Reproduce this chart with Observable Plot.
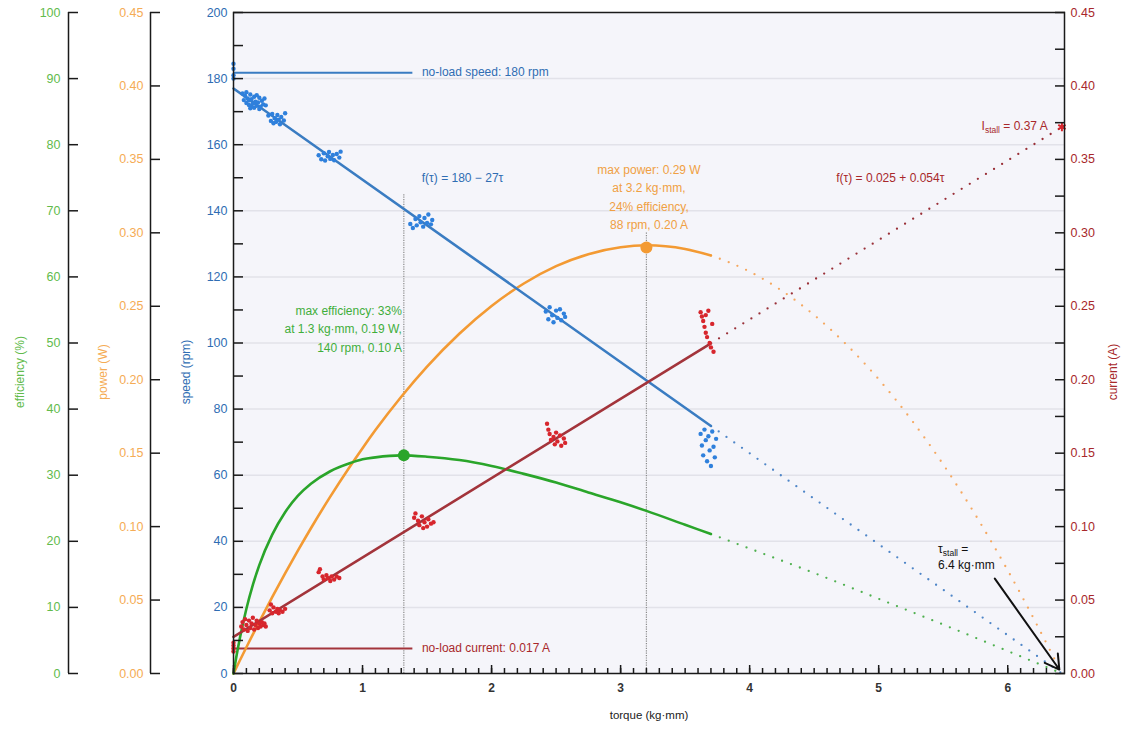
<!DOCTYPE html>
<html><head><meta charset="utf-8">
<script src="https://cdn.jsdelivr.net/npm/d3@7"></script>
<script src="https://cdn.jsdelivr.net/npm/@observablehq/plot@0.6"></script>
<style>
body{margin:0;background:#fff;font-family:"Liberation Sans",Arial,sans-serif}
</style>
</head><body><div id="chart"></div>
<script>
// ---------- scales of the four value axes ----------
const speedDomain = [0, 200];      // rpm (primary y)
const powerDomain = [0, 0.45];     // W
const effDomain = [0, 100];        // %
const currentDomain = [0, 0.45];   // A
const torqueDomain = [0, 6.44];    // kg·mm

// ---------- tick values ----------
const xMajorTicks = [0, 1, 2, 3, 4, 5, 6];
const xMinorTicks = d3.range(0, 64).map(i => i / 10);
const speedMajorTicks = [0, 20, 40, 60, 80, 100, 120, 140, 160, 180, 200];
const speedMinorTicks = [10, 30, 50, 70, 90, 110, 130, 150, 170, 190];
const speedGrid = [20, 40, 60, 80, 100, 120, 140, 160, 180];
const powerTicks = [0, 0.05, 0.10, 0.15, 0.20, 0.25, 0.30, 0.35, 0.40, 0.45];
const effTicks = [0, 10, 20, 30, 40, 50, 60, 70, 80, 90, 100];
const currentMajorTicks = [0, 0.05, 0.10, 0.15, 0.20, 0.25, 0.30, 0.35, 0.40, 0.45];
const currentMinorTicks = [0.025, 0.075, 0.125, 0.175, 0.225, 0.275, 0.325, 0.375, 0.425];

// ---------- fitted lines (solid to 3.7, dotted to stall) ----------
const lineTorque = [0, 3.7];
const speedLine = [177, 74.9];
const currentLine = [0.025, 0.2248];
const extTorque = [3.7, 6.42];
const speedExt = [74.9, 0];
const currentExt = [0.2248, 0.372];

// ---------- curves ----------
const curveTorque = [0, 0.02, 0.05, 0.1, 0.15, 0.2, 0.3, 0.4, 0.5, 0.6, 0.75, 0.9, 1, 1.1, 1.3, 1.5, 1.75, 2, 2.25, 2.5, 2.75, 3, 3.2, 3.5, 3.7];
const powerW = [0, 0.0036, 0.0090, 0.0179, 0.0266, 0.0352, 0.0520, 0.0682, 0.0838, 0.0989, 0.1204, 0.1406, 0.1534, 0.1657, 0.1884, 0.2089, 0.2313, 0.2502, 0.2655, 0.2773, 0.2855, 0.2902, 0.2915, 0.2890, 0.2846];
const efficiencyPct = [0, 2.3, 5.4, 9.8, 13.4, 16.4, 21.0, 24.4, 26.9, 28.7, 30.6, 31.8, 32.4, 32.7, 33.0, 32.8, 32.3, 31.4, 30.2, 28.9, 27.4, 25.9, 24.6, 22.5, 21.1];
const curveExtTorque = [3.7, 4, 4.5, 5, 5.5, 6, 6.42];
const powerExtW = [0.2846, 0.2736, 0.2440, 0.2003, 0.1423, 0.0702, 0];
const efficiencyExtPct = [21.1, 18.9, 15.2, 11.3, 7.4, 3.4, 0];

// ---------- measured speed points ----------
const speedPtTorque = [0,0,0,0,
 0.07,0.08,0.09,0.10,0.10,0.11,0.12,0.12,0.13,0.14,0.14,0.15,0.16,0.16,0.17,0.18,0.18,0.19,0.20,0.21,0.22,0.23,0.24,0.25,0.13,0.20,
 0.27,0.29,0.30,0.31,0.32,0.33,0.34,0.35,0.36,0.37,0.39,0.40,
 0.66,0.68,0.70,0.71,0.73,0.74,0.75,0.77,0.78,0.80,0.82,0.83,
 1.37,1.39,1.41,1.42,1.44,1.45,1.47,1.48,1.50,1.51,1.53,1.54,
 2.42,2.44,2.45,2.47,2.48,2.50,2.51,2.53,2.54,2.56,2.57,
 3.62,3.63,3.64,3.65,3.66,3.67,3.68,3.69,3.70,3.71,3.72,3.73,3.74];
const speedPtRpm = [184.5,183,181,180,
 175.5,173.5,174.8,172.6,175.9,174.0,172.0,173.4,175.2,171.6,173.8,172.5,174.5,171.2,173.0,175.0,171.8,172.8,174.2,171.5,173.3,172.2,174.0,171.9,171.0,170.8,
 168.8,167.2,169.3,166.5,168.0,166.9,169.0,167.6,166.2,168.4,167.3,169.5,
 156.8,155.6,157.4,155.2,156.5,157.8,155.7,156.9,155.3,157.2,156.1,157.9,
 136.0,134.8,137.5,135.6,138.4,136.5,135.2,137.8,136.3,138.9,135.9,137.2,
 109.5,107.2,110.8,108.4,106.3,109.8,107.6,110.2,106.9,108.9,107.9,
 72.5,69.0,66.0,73.8,70.6,64.2,71.8,67.5,62.8,73.2,68.6,65.4,71.0];

// ---------- measured current points ----------
const currentPtTorque = [0,0,0,0,
 0.06,0.07,0.08,0.09,0.10,0.11,0.12,0.13,0.14,0.15,0.16,0.17,0.18,0.19,0.20,0.21,0.22,0.23,0.24,0.25,
 0.28,0.29,0.30,0.31,0.33,0.34,0.35,0.36,0.38,0.40,
 0.66,0.67,0.69,0.70,0.72,0.73,0.75,0.76,0.78,0.80,0.82,
 1.40,1.41,1.43,1.44,1.46,1.47,1.48,1.50,1.51,1.53,1.55,
 2.43,2.44,2.45,2.46,2.48,2.49,2.50,2.51,2.53,2.54,2.56,2.57,
 3.62,3.63,3.64,3.65,3.66,3.67,3.68,3.69,3.70,3.71,3.72,3.66];
const currentPtAmp = [0.015,0.017,0.019,0.021,
 0.032,0.035,0.030,0.037,0.033,0.029,0.036,0.031,0.034,0.038,0.030,0.033,0.036,0.031,0.034,0.032,0.035,0.033,0.034,0.032,
 0.043,0.047,0.041,0.045,0.042,0.044,0.041,0.043,0.042,0.044,
 0.069,0.071,0.066,0.064,0.067,0.065,0.063,0.066,0.064,0.066,0.065,
 0.106,0.109,0.104,0.101,0.107,0.099,0.103,0.100,0.105,0.102,0.103,
 0.170,0.166,0.163,0.159,0.161,0.156,0.164,0.158,0.162,0.155,0.160,0.157,
 0.246,0.243,0.240,0.236,0.232,0.229,0.247,0.225,0.222,0.238,0.219,0.244];

// ---------- key values / annotations ----------
const noLoadSpeed = 181.8, noLoadCurrent = 0.017;
const noLoadRuleEnd = 1.39;
const maxEff = {torque: 1.32, eff: 33, ruleTop: 145};
const maxPower = {torque: 3.2, power: 0.29, ruleTop: 133.5};
const stall = {torque: 6.42, current: 0.372};

// ---------- colours ----------
const BLUE = "#3a7cc2", BLUE_PT = "#2f80dc", BLUE_TXT = "#2f6db3";
const GREEN = "#2aa52a", GREEN_TXT = "#3fae3a", GREEN_TICK = "#62bb4c";
const ORANGE = "#f39a33", ORANGE_TXT = "#f0a043", ORANGE_TICK = "#f5ac55";
const RED = "#a3343b", RED_PT = "#d7262d", RED_TXT = "#a8282b";

// ---------- conversions to the primary (speed) scale ----------
const fromPower = w => w * speedDomain[1] / powerDomain[1];
const fromEff = e => e * speedDomain[1] / effDomain[1];
const fromCurrent = a => a * speedDomain[1] / currentDomain[1];

const zip = (xs, ys, f) => xs.map((x, i) => ({x, y: f ? f(ys[i]) : ys[i]}));

const speedPts = zip(speedPtTorque, speedPtRpm);
const currentPts = zip(currentPtTorque, currentPtAmp, fromCurrent);

const font = "Liberation Sans, Arial, sans-serif";
const dotted = {strokeWidth: 2.3, strokeDasharray: "0 9.5", strokeLinecap: "round"};
const ANN = 12;      // annotation font size
const TITLE = 12;    // axis title font size

const chart = Plot.plot({
  width: 1121, height: 731,
  marginTop: 12, marginBottom: 58, marginLeft: 233, marginRight: 57,
  style: {fontFamily: font, fontSize: "12px", background: "#fff", overflow: "visible"},
  x: {domain: torqueDomain},
  y: {domain: speedDomain},
  marks: [
    Plot.frame({fill: "#f5f5fa", stroke: null}),
    Plot.ruleY(speedGrid, {stroke: "#e2e2e9", strokeWidth: 1.5}),
    // vertical guide lines
    Plot.ruleX([maxEff], {x: "torque", y1: 0, y2: "ruleTop", stroke: "#8a8a8a", strokeWidth: 1.2, strokeDasharray: "1.2 1.2"}),
    Plot.ruleX([maxPower], {x: "torque", y1: 0, y2: "ruleTop", stroke: "#8a8a8a", strokeWidth: 1.2, strokeDasharray: "1.2 1.2"}),
    // no-load lines
    Plot.ruleY([noLoadSpeed], {x1: 0, x2: noLoadRuleEnd, stroke: BLUE, strokeWidth: 2}),
    Plot.ruleY([fromCurrent(noLoadCurrent)], {x1: 0, x2: noLoadRuleEnd, stroke: RED, strokeWidth: 2}),
    // dotted extrapolations
    Plot.line(zip(curveExtTorque, efficiencyExtPct, fromEff), {x: "x", y: "y", stroke: "#4fb04f", curve: "monotone-x", ...dotted}),
    Plot.line(zip(curveExtTorque, powerExtW, fromPower), {x: "x", y: "y", stroke: "#f5a860", curve: "monotone-x", ...dotted}),
    Plot.line(zip(extTorque, speedExt), {x: "x", y: "y", stroke: "#4f86c8", ...dotted}),
    Plot.line(zip(extTorque, currentExt, fromCurrent), {x: "x", y: "y", stroke: "#9a3038", ...dotted}),
    // solid curves
    Plot.line(zip(curveTorque, powerW, fromPower), {x: "x", y: "y", stroke: ORANGE, strokeWidth: 2.6, curve: "monotone-x"}),
    Plot.line(zip(curveTorque, efficiencyPct, fromEff), {x: "x", y: "y", stroke: GREEN, strokeWidth: 2.6, curve: "monotone-x"}),
    Plot.line(zip(lineTorque, speedLine), {x: "x", y: "y", stroke: BLUE, strokeWidth: 2.6}),
    Plot.line(zip(lineTorque, currentLine, fromCurrent), {x: "x", y: "y", stroke: RED, strokeWidth: 2.6}),
    // measurements
    Plot.dot(speedPts, {x: "x", y: "y", r: 2.2, fill: BLUE_PT, stroke: null}),
    Plot.dot(currentPts, {x: "x", y: "y", r: 2.2, fill: RED_PT, stroke: null}),
    // key markers
    Plot.dot([maxEff], {x: "torque", y: d => fromEff(d.eff), r: 6, fill: GREEN, stroke: null}),
    Plot.dot([maxPower], {x: "torque", y: d => fromPower(d.power), r: 6, fill: ORANGE, stroke: null}),
    Plot.dot([stall], {x: "torque", y: d => fromCurrent(d.current), r: 4, symbol: "asterisk", stroke: RED_PT, strokeWidth: 2}),
    // annotations
    Plot.text(["no-load speed: 180 rpm"], {x: 1.46, y: noLoadSpeed, textAnchor: "start", fill: BLUE_TXT, fontSize: ANN}),
    Plot.text(["no-load current: 0.017 A"], {x: 1.46, y: fromCurrent(noLoadCurrent), textAnchor: "start", fill: RED_TXT, fontSize: ANN}),
    Plot.text(["f(τ) = 180 − 27τ"], {x: 1.775, y: 149.8, fill: BLUE_TXT, fontSize: ANN}),
    Plot.text(["f(τ) = 0.025 + 0.054τ"], {x: 5.09, y: 149.8, fill: RED_TXT, fontSize: ANN}),
    Plot.text(["max efficiency: 33%\nat 1.3 kg·mm, 0.19 W,\n140 rpm, 0.10 A"], {x: 1.305, y: 104.7, textAnchor: "end", lineHeight: 1.52, fill: GREEN_TXT, fontSize: ANN}),
    Plot.text(["max power: 0.29 W\nat 3.2 kg·mm,\n24% efficiency,\n88 rpm, 0.20 A"], {x: 3.22, y: 144.6, lineHeight: 1.52, fill: ORANGE_TXT, fontSize: ANN}),
    Plot.text(["I_stall = 0.37 A"], {x: 6.31, y: 165.5, textAnchor: "end", fill: RED_TXT, fontSize: ANN}),
    Plot.text(["τ_stall =\n6.4 kg·mm"], {x: 5.46, y: 35.7, textAnchor: "start", lineHeight: 1.35, fill: "#111", fontSize: ANN}),
    Plot.arrow([{x1: 5.9, y1: 28.7, x2: 6.40, y2: 1.2}], {x1: "x1", y1: "y1", x2: "x2", y2: "y2", stroke: "#111", strokeWidth: 2, headLength: 12}),
    // frame and axis lines
    Plot.frame({stroke: "#1a1a1a", strokeWidth: 1.5}),
    Plot.ruleX([0], {y1: speedDomain[0], y2: speedDomain[1], dx: -83, stroke: "#1a1a1a", strokeWidth: 1.5}),
    Plot.ruleX([0], {y1: speedDomain[0], y2: speedDomain[1], dx: -165, stroke: "#1a1a1a", strokeWidth: 1.5}),
    // x axis
    Plot.axisX(xMinorTicks, {tickSize: -5, tickFormat: () => "", stroke: "#1a1a1a", strokeWidth: 1.5, label: null}),
    Plot.axisX(xMajorTicks, {tickSize: -8, tickPadding: 18, stroke: "#1a1a1a", strokeWidth: 1.5, fill: "#333", fontWeight: "bold", fontSize: 12, tickFormat: d3.format("d"), label: null}),
    Plot.text(["torque (kg·mm)"], {frameAnchor: "bottom", textAnchor: "middle", dy: 45, fill: "#222", fontSize: 11.5}),
    // speed axis
    Plot.axisY(speedMinorTicks, {anchor: "left", tickSize: -10, tickFormat: () => "", stroke: "#1a1a1a", strokeWidth: 1.5, label: null}),
    Plot.axisY(speedMajorTicks, {anchor: "left", tickSize: -10, tickPadding: 16, stroke: "#1a1a1a", strokeWidth: 1.5, fill: BLUE_TXT, fontSize: 12.5, tickFormat: d3.format("d"), label: null}),
    Plot.text(["speed (rpm)"], {frameAnchor: "left", textAnchor: "middle", dx: -47, dy: 29, rotate: -90, fill: BLUE_TXT, fontSize: TITLE}),
    // power axis
    Plot.axisY(powerTicks.map(fromPower), {anchor: "left", dx: -83, tickSize: -10, tickPadding: 17, stroke: "#1a1a1a", strokeWidth: 1.5, fill: ORANGE_TICK, fontSize: 12.5, tickFormat: d => d3.format(".2f")(d * powerDomain[1] / speedDomain[1]), label: null}),
    Plot.text(["power (W)"], {frameAnchor: "left", textAnchor: "middle", dx: -130, dy: 29, rotate: -90, fill: ORANGE_TICK, fontSize: TITLE}),
    // efficiency axis
    Plot.axisY(effTicks.map(fromEff), {anchor: "left", dx: -165, tickSize: -10, tickPadding: 18, stroke: "#1a1a1a", strokeWidth: 1.5, fill: GREEN_TICK, fontSize: 12.5, tickFormat: d => Math.round(d * effDomain[1] / speedDomain[1]), label: null}),
    Plot.text(["efficiency (%)"], {frameAnchor: "left", textAnchor: "middle", dx: -213, dy: 29, rotate: -90, fill: GREEN_TICK, fontSize: TITLE}),
    // current axis
    Plot.axisY(currentMinorTicks.map(fromCurrent), {anchor: "right", tickSize: -10, tickFormat: () => "", stroke: "#1a1a1a", strokeWidth: 1.5, label: null}),
    Plot.axisY(currentMajorTicks.map(fromCurrent), {anchor: "right", tickSize: -10, tickPadding: 16, stroke: "#1a1a1a", strokeWidth: 1.5, fill: RED_TXT, fontSize: 12.5, tickFormat: d => d3.format(".2f")(d * currentDomain[1] / speedDomain[1]), label: null}),
    Plot.text(["current (A)"], {frameAnchor: "right", textAnchor: "middle", dx: 49, dy: 29, rotate: -90, fill: RED_TXT, fontSize: TITLE})
  ]
});

// subscripts for "_stall"
d3.select(chart).selectAll("text, tspan").each(function() {
  if (this.childElementCount) return;
  const s = this.textContent;
  const m = s.match(/^(.*?)_stall(.*)$/);
  if (!m) return;
  this.textContent = "";
  const el = d3.select(this);
  el.append("tspan").text(m[1]);
  el.append("tspan").attr("dy", 3).attr("font-size", 8.5).text("stall");
  el.append("tspan").attr("dy", -3).text(m[2]);
});

document.getElementById("chart").append(chart);
</script>
</body></html>
